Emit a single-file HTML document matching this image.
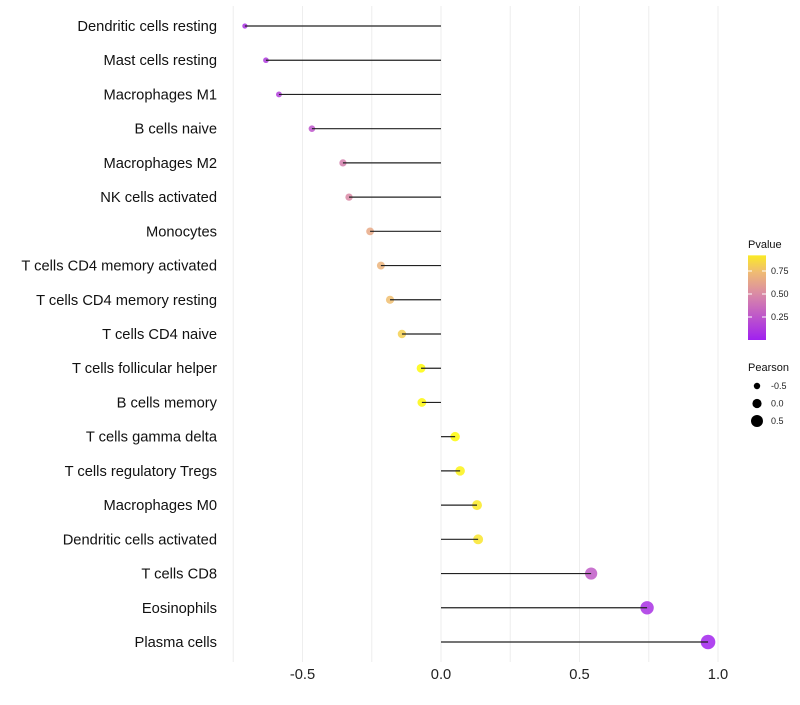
<!DOCTYPE html>
<html><head><meta charset="utf-8"><style>
body{margin:0;background:#fff;font-family:"Liberation Sans",sans-serif;}
</style></head><body>
<svg id="chart" width="800" height="700" xmlns="http://www.w3.org/2000/svg"></svg>
<script>
const categories=["Dendritic cells resting","Mast cells resting","Macrophages M1","B cells naive","Macrophages M2","NK cells activated","Monocytes","T cells CD4 memory activated","T cells CD4 memory resting","T cells CD4 naive","T cells follicular helper","B cells memory","T cells gamma delta","T cells regulatory  Tregs","Macrophages M0","Dendritic cells activated","T cells CD8","Eosinophils","Plasma cells"];
const pearson=[-0.708,-0.632,-0.585,-0.466,-0.354,-0.332,-0.256,-0.217,-0.184,-0.141,-0.072,-0.069,0.051,0.069,0.130,0.134,0.542,0.744,0.964];
const pvalue=[0.08,0.12,0.15,0.25,0.45,0.5,0.65,0.7,0.75,0.82,0.98,0.97,0.98,0.95,0.92,0.9,0.28,0.08,0.02];
const xTicks=[-0.5,0,0.5,1.0];
const xTickLabels=["-0.5","0.0","0.5","1.0"];
const gridMinor=[-0.75,-0.25,0.25,0.75];
const legendP=[0.25,0.5,0.75];
const legendPearson=[-0.5,0,0.5];

const NS="http://www.w3.org/2000/svg";
const svg=document.getElementById('chart');
function X(v){return 441+v*277;}
function Y(i){return 26+i*(616/18);}
function R(p){return 4.6+2.8*p;}
const stops=[[0,[160,32,240]],[0.5,[218,138,166]],[0.75,[240,190,112]],[1,[255,255,0]]];
function col(p){for(let k=1;k<stops.length;k++){if(p<=stops[k][0]){const [o0,a]=stops[k-1],[o1,b]=stops[k];const t=(p-o0)/(o1-o0);return 'rgb('+a.map((c,j)=>Math.round(c+(b[j]-c)*t)).join(',')+')';}}return 'rgb(255,255,0)';}
function mk(tag,attrs,parent){const e=document.createElementNS(NS,tag);for(const k in attrs)e.setAttribute(k,attrs[k]);(parent||svg).appendChild(e);return e;}

gridMinor.concat(xTicks).forEach(v=>{
  const l=mk('line',{x1:X(v),x2:X(v),y1:6,y2:662,stroke:'#eeeeee','stroke-width':1});
  
  
});
xTicks.forEach((v,i)=>{
  const t=mk('text',{x:X(v),y:679,'text-anchor':'middle','font-size':14.7,fill:'#222'});
  t.textContent=xTickLabels[i];
  
  
});
categories.forEach((c,i)=>{
  const t=mk('text',{x:217,y:Y(i)+5,'text-anchor':'end','font-size':14.7,fill:'#111'});
  t.textContent=c;
  
  
  const ci=mk('circle',{cx:X(pearson[i]),cy:Y(i),r:R(pearson[i]),fill:col(pvalue[i]),'fill-opacity':0.85});
  
  
  const l=mk('line',{x1:X(0),x2:X(pearson[i]),y1:Y(i),y2:Y(i),stroke:'#222','stroke-width':1.2});
  
  
});
const lt=mk('text',{x:748,y:248,'font-size':11,fill:'#111'});lt.textContent='Pvalue';


const defs=mk('defs',{});
const g=mk('linearGradient',{id:'pg',x1:0,y1:1,x2:0,y2:0},defs);
for(let k=0;k<=10;k++){mk('stop',{offset:k/10,'stop-color':col(k/10*0.92)},g);}
function LY(p){return 340-p*92;}
const bar=mk('rect',{x:748,y:LY(0.92),width:18,height:LY(0)-LY(0.92),fill:'url(#pg)'});


legendP.forEach(p=>{
  mk('line',{x1:748,x2:752,y1:LY(p),y2:LY(p),stroke:'#fff'});mk('line',{x1:762,x2:766,y1:LY(p),y2:LY(p),stroke:'#fff'});
  const t=mk('text',{x:771,y:LY(p)+3,'font-size':9,fill:'#222'});t.textContent=p.toFixed(2);
  
  
});
const st=mk('text',{x:748,y:371,'font-size':11,fill:'#111'});st.textContent='Pearson';


legendPearson.forEach((p,i)=>{
  const y=386+i*17.5;
  const c=mk('circle',{cx:757,cy:y,r:R(p),fill:'#000'});
  
  
  const t=mk('text',{x:771,y:y+3,'font-size':9,fill:'#222'});t.textContent=p===0?'0.0':String(p);
  
  
});
</script>
</body></html>
